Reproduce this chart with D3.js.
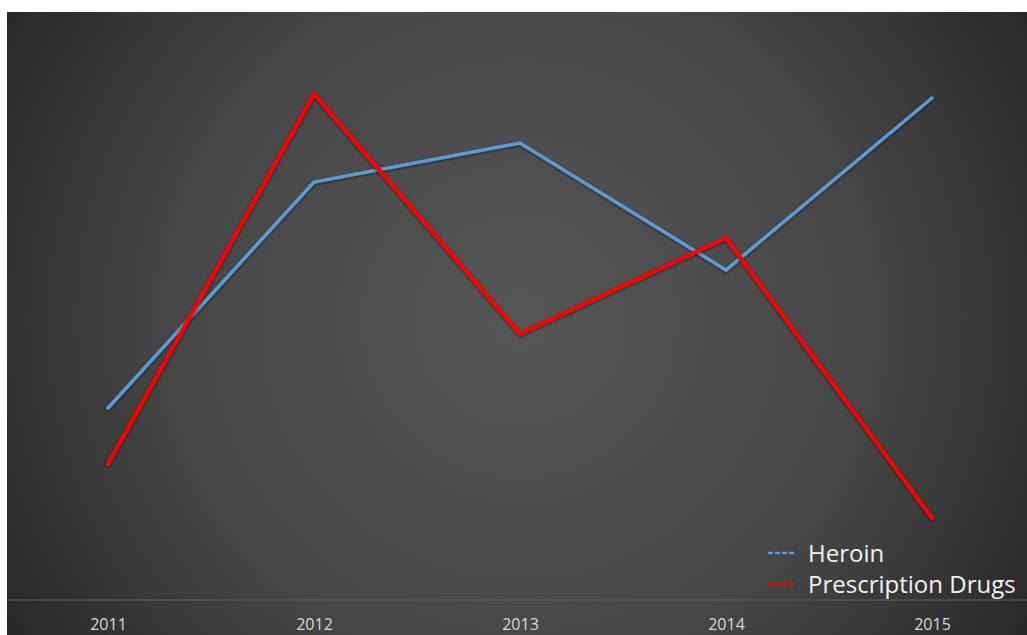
<!DOCTYPE html>
<html>
<head>
<meta charset="utf-8">
<script src="https://cdn.jsdelivr.net/npm/d3@7"></script>
<style>
  html, body { margin: 0; padding: 0; background: #fff; }
  svg { display: block; }
</style>
</head>
<body>
<svg width="1027" height="635"></svg>
<script>
var years = ["2011", "2012", "2013", "2014", "2015"]
var heroin = [38.4, 83.6, 91.4, 66, 100.4]
var prescription = [27.2, 101.2, 53.2, 72.4, 16.4]
var seriesNames = ["Heroin", "Prescription Drugs"]
var seriesColors = ["#5b9bd5", "#ff0000"]

var svg = d3.select("svg")
var W = 1027, H = 635

// background, radial glow in the middle
var defs = svg.append("defs")
var grad = defs.append("radialGradient")
    .attr("id", "bg")
    .attr("gradientUnits", "userSpaceOnUse")
    .attr("cx", 520).attr("cy", 320).attr("r", 620)
grad.append("stop").attr("offset", "0").attr("stop-color", "#565656")
grad.append("stop").attr("offset", "0.55").attr("stop-color", "#474747")
grad.append("stop").attr("offset", "1").attr("stop-color", "#262626")

var shadow = defs.append("filter").attr("id", "shadow")
    .attr("x", "-10%").attr("y", "-10%").attr("width", "120%").attr("height", "120%")
shadow.append("feDropShadow")
    .attr("dx", 0).attr("dy", 1).attr("stdDeviation", 1.5)
    .attr("flood-color", "#000").attr("flood-opacity", 0.6)

svg.append("rect")
    .attr("x", 7).attr("y", 12)
    .attr("width", W - 7).attr("height", H - 12)
    .attr("fill", "url(#bg)")

var x = d3.scalePoint().domain(years).range([108, 932])
var y = d3.scaleLinear().domain([0, 110]).range([600, 50])

// category axis
var axis = svg.append("g")
    .attr("transform", "translate(0,600)")
    .call(d3.axisBottom(x).tickSize(0).tickPadding(19))
axis.select(".domain").remove()
axis.append("line")
    .attr("x1", 7).attr("x2", W)
    .attr("stroke", "#5e5e5e").attr("stroke-width", 1.2)
axis.selectAll("text")
    .attr("fill", "#d9d9d9")
    .style("font-family", "'Open Sans', sans-serif")
    .style("font-size", "16px")

var line = d3.line()
    .x(function(d, i) { return x(years[i]) })
    .y(function(d) { return y(d) })

var data = [heroin, prescription]
var widths = [3.5, 4]
data.forEach(function(s, k) {
    svg.append("path")
        .datum(s)
        .attr("d", line)
        .attr("fill", "none")
        .attr("stroke", seriesColors[k])
        .attr("stroke-width", widths[k])
        .attr("stroke-linejoin", "miter")
        .attr("stroke-linecap", "round")
        .attr("filter", "url(#shadow)")
})

// legend
var legend = svg.append("g")
seriesNames.forEach(function(name, k) {
    var ly = 553 + k * 31
    legend.append("line")
        .attr("x1", 768).attr("x2", 795)
        .attr("y1", ly).attr("y2", ly)
        .attr("stroke", seriesColors[k]).attr("stroke-width", 2.5)
        .attr("stroke-dasharray", "5,2")
    legend.append("text")
        .attr("x", 808).attr("y", ly)
        .attr("dy", "0.36em")
        .attr("fill", "#f2f2f2")
        .style("font-family", "'Open Sans', sans-serif")
        .style("font-size", "24px")
        .text(name)
})
</script>
</body>
</html>
